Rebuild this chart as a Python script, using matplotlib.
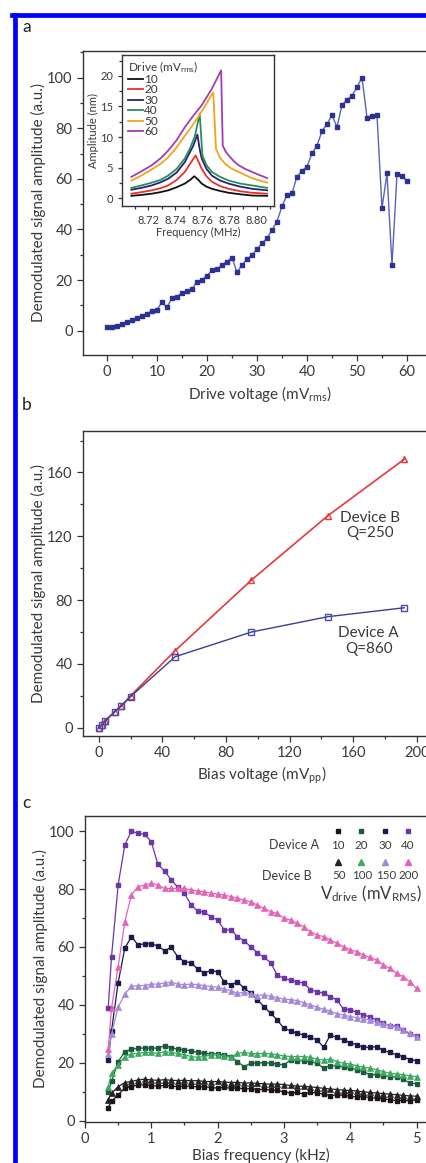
import matplotlib
matplotlib.use("Agg")
import matplotlib.pyplot as plt
from matplotlib.lines import Line2D
from matplotlib.ticker import MultipleLocator

plt.rcParams["font.family"] = ["Lato", "DejaVu Sans"]
plt.rcParams["mathtext.fontset"] = "custom"
plt.rcParams["mathtext.rm"] = "Lato"
plt.rcParams["mathtext.it"] = "Lato:italic"

W, H = 427, 1163
TXT = "#3a3a3a"

# ---------------- panel a: drive sweep ----------------
drive_mv = list(range(61))
drive_amp = [1.6, 1.4, 2.0, 2.6, 3.3, 4.2, 5.0, 6.0, 6.7, 7.9, 8.3,
             11.3, 9.3, 12.9, 13.5, 14.9, 15.5, 16.4, 19.4, 20.1, 21.8,
             23.8, 24.3, 26.0, 27.3, 28.9, 23.0, 26.0, 28.3, 29.9, 32.2,
             34.5, 36.5, 39.8, 43.1, 49.2, 53.6, 54.3, 60.9, 63.2, 64.8,
             70.1, 73.1, 78.9, 81.6, 85.2, 80.4, 89.2, 91.2, 92.8, 96.2,
             100.0, 84.2, 85.0, 85.2, 48.4, 62.2, 26.0, 61.8, 61.1, 59.2]

# inset: resonance curves (MHz, nm) per drive level
inset_labels = ["10", "20", "30", "40", "50", "60"]
inset_colors = ["#111111", "#e8302e", "#23246e", "#2f8a5a", "#f5a31a", "#a23cb4"]
f10 = [8.7076, 8.715, 8.7226, 8.729, 8.7348, 8.741, 8.747, 8.751, 8.754, 8.757,
       8.7595, 8.763, 8.767, 8.773, 8.7793, 8.788, 8.7966, 8.8077]
a10 = [0.4, 0.55, 0.75, 1.0, 1.3, 1.8, 2.4, 3.0, 3.6, 3.0,
       2.4, 1.9, 1.55, 1.2, 0.9, 0.65, 0.45, 0.4]
f20 = [8.7076, 8.715, 8.7226, 8.729, 8.7348, 8.741, 8.747, 8.752, 8.755, 8.7575,
       8.7595, 8.763, 8.767, 8.773, 8.7793, 8.788, 8.7966, 8.8077]
a20 = [0.75, 1.0, 1.3, 1.65, 2.1, 3.0, 4.3, 6.0, 7.0, 5.8,
       4.8, 3.6, 2.7, 2.0, 1.55, 1.15, 0.9, 0.75]
f30 = [8.7076, 8.715, 8.7226, 8.729, 8.7348, 8.741, 8.747, 8.7533, 8.7563, 8.758,
       8.7595, 8.763, 8.767, 8.773, 8.7793, 8.788, 8.7966, 8.8077]
a30 = [1.4, 1.7, 2.1, 2.6, 3.2, 4.2, 5.9, 8.6, 10.4, 8.0,
       6.5, 4.8, 3.7, 2.9, 2.4, 1.9, 1.55, 1.3]
f40 = [8.7076, 8.715, 8.7226, 8.729, 8.7348, 8.741, 8.747, 8.751, 8.7545, 8.758,
       8.760, 8.763, 8.767, 8.773, 8.7793, 8.788, 8.7966, 8.8077]
a40 = [1.7, 2.1, 2.55, 3.0, 3.7, 4.8, 6.5, 8.2, 10.2, 13.8,
       7.0, 5.4, 4.3, 3.5, 2.9, 2.4, 2.1, 1.7]
f50 = [8.7076, 8.715, 8.7226, 8.729, 8.7348, 8.741, 8.747, 8.752, 8.757, 8.7644,
       8.768, 8.770, 8.773, 8.7768, 8.781, 8.7867, 8.7915, 8.7966, 8.802, 8.8077]
a50 = [2.9, 3.7, 4.7, 5.6, 6.7, 8.3, 10.2, 11.7, 13.3, 16.0,
       17.3, 8.1, 6.6, 5.65, 4.9, 4.3, 3.8, 3.3, 2.9, 2.55]
f60 = [8.7076, 8.715, 8.7226, 8.729, 8.7348, 8.741, 8.747, 8.753, 8.7595, 8.767,
       8.7738, 8.775, 8.777, 8.7793, 8.783, 8.7867, 8.7915, 8.7966, 8.802, 8.8077]
a60 = [3.5, 4.4, 5.4, 6.5, 7.8, 9.5, 11.6, 13.4, 15.2, 17.9,
       20.9, 8.6, 7.7, 7.0, 6.1, 5.4, 4.8, 4.3, 3.8, 3.3]
inset_f = [f10, f20, f30, f40, f50, f60]
inset_a = [a10, a20, a30, a40, a50, a60]

# ---------------- panel b: bias voltage ----------------
bias_mv = [0, 2, 4, 10, 14, 20, 48, 96, 144, 192]
devB_amp = [0, 2, 4.5, 10, 13.5, 20, 48.3, 92.6, 132.9, 168.3]
devA_amp = [0, 2, 4, 10, 13.5, 19.5, 44.5, 60.0, 69.6, 75.2]

# ---------------- panel c: bias frequency ----------------
freq_khz = [0.35, 0.4, 0.5, 0.6, 0.7, 0.8, 0.9, 1.0, 1.1, 1.2, 1.3, 1.4,
            1.5, 1.6, 1.7, 1.8, 1.9, 2.0, 2.1, 2.2, 2.3, 2.4, 2.5, 2.6,
            2.7, 2.8, 2.9, 3.0, 3.1, 3.2, 3.3, 3.4, 3.5, 3.6, 3.7, 3.8,
            3.9, 4.0, 4.1, 4.2, 4.3, 4.4, 4.5, 4.6, 4.7, 4.8, 4.9, 5.0]
cA10 = [4.6, 6.7, 9.0, 11.3, 11.8, 12.4, 12.4, 12.1, 12.0, 12.2, 12.0, 11.8,
        12.0, 11.9, 11.7, 11.8, 11.5, 11.3, 11.6, 11.2, 11.4, 11.0, 11.1, 10.8,
        10.9, 10.6, 10.5, 10.0, 9.6, 9.8, 9.2, 9.9, 9.5, 9.3, 8.7, 9.0,
        8.8, 8.5, 8.2, 8.4, 8.0, 7.8, 7.6, 7.2, 7.0, 7.1, 6.9, 7.3]
cA20 = [10.1, 13.6, 20.4, 23.9, 24.7, 25.1, 25.1, 25.1, 25.1, 25.9, 25.3, 24.7,
        24.5, 24.2, 23.6, 23.3, 23.1, 23.0, 22.8, 22.2, 20.4, 18.7, 19.9, 19.9,
        20.1, 19.9, 19.6, 19.3, 21.0, 20.8, 20.8, 20.4, 19.9, 18.2, 19.0, 19.0,
        18.5, 18.2, 17.6, 17.0, 15.9, 15.9, 15.5, 15.3, 15.1, 14.4, 13.0, 12.8]
cA30 = [21.0, 31.1, 47.7, 59.5, 63.6, 60.7, 61.1, 61.1, 60.3, 58.7, 59.9, 56.6,
        54.9, 54.6, 52.3, 51.1, 51.8, 51.5, 48.0, 46.9, 48.0, 45.7, 44.2, 41.7,
        39.4, 37.1, 34.8, 31.9, 31.1, 30.2, 29.6, 28.8, 27.9, 25.4, 29.6, 28.8,
        27.9, 27.0, 26.2, 25.4, 25.4, 25.6, 24.3, 23.6, 22.8, 22.2, 21.1, 20.8]
cA40 = [38.9, 56.7, 81.4, 95.2, 100.0, 99.2, 98.9, 96.3, 88.5, 86.2, 83.2, 80.6,
        78.5, 74.5, 72.4, 72.0, 70.4, 69.3, 65.9, 65.9, 63.6, 62.1, 60.1, 58.0,
        56.4, 54.6, 50.3, 49.2, 48.5, 48.0, 47.5, 45.2, 44.6, 44.0, 42.9, 41.7,
        38.5, 38.3, 37.4, 36.6, 35.8, 34.8, 33.7, 32.8, 32.8, 31.4, 30.0, 29.3]
cB50 = [7.2, 9.5, 11.8, 13.2, 13.6, 14.1, 14.4, 14.1, 14.0, 14.2, 14.0, 13.9,
        14.0, 13.8, 13.9, 13.6, 13.5, 13.6, 13.4, 13.2, 13.3, 13.0, 13.1, 12.9,
        12.8, 12.6, 12.7, 12.5, 12.2, 12.0, 11.9, 11.7, 11.5, 11.2, 11.0, 10.8,
        10.6, 10.5, 10.3, 10.0, 9.8, 9.6, 9.4, 9.2, 9.0, 8.8, 8.6, 8.5]
cB100 = [11.8, 16.4, 19.3, 22.2, 23.1, 23.3, 23.6, 23.6, 23.3, 23.9, 23.6, 23.3,
         22.8, 22.2, 21.9, 22.2, 22.8, 22.8, 22.4, 21.9, 23.3, 23.6, 23.3, 23.1,
         23.3, 23.1, 22.8, 22.4, 22.2, 22.2, 22.2, 21.9, 21.3, 21.0, 21.3, 20.4,
         19.9, 19.6, 19.0, 18.5, 18.2, 17.6, 17.0, 16.4, 16.2, 15.9, 15.5, 15.3]
cB150 = [23.0, 30.0, 39.2, 43.8, 46.4, 46.7, 46.7, 47.2, 47.2, 47.6, 47.8, 47.2,
         47.0, 47.2, 47.0, 46.7, 46.3, 46.1, 45.5, 44.9, 44.0, 44.4, 43.8, 43.2,
         43.5, 43.0, 42.5, 42.0, 41.8, 41.5, 40.8, 40.0, 39.2, 38.5, 37.8, 37.0,
         36.5, 36.0, 35.6, 35.3, 34.8, 34.0, 33.5, 33.0, 32.4, 31.5, 30.2, 29.0]
cB200 = [24.7, 38.9, 53.2, 68.7, 78.0, 80.8, 81.4, 82.0, 81.4, 80.2, 80.2, 80.2,
         80.2, 79.7, 79.3, 79.1, 78.5, 78.3, 77.9, 77.4, 76.8, 76.2, 75.5, 74.5,
         73.3, 72.2, 71.6, 69.9, 69.3, 68.2, 67.0, 65.3, 64.1, 63.6, 62.4, 61.3,
         60.1, 59.0, 58.4, 57.2, 56.4, 55.5, 53.8, 52.6, 50.9, 49.8, 48.0, 45.7]
devA_labels = ["10", "20", "30", "40"]
devB_labels = ["50", "100", "150", "200"]
devA_series = [cA10, cA20, cA30, cA40]
devB_series = [cB50, cB100, cB150, cB200]
devA_colors = ["#1c1416", "#1d5a3c", "#1c1a4c", "#6a36a8"]
devB_colors = ["#222222", "#3da862", "#a489d8", "#e462b8"]


def px_axes(fig, left, top, right, bottom):
    return fig.add_axes([left / W, 1 - bottom / H, (right - left) / W, (bottom - top) / H])


def style(ax, fs=10.5, major=4, minor=2.5):
    for s in ax.spines.values():
        s.set_color("#333333")
        s.set_linewidth(1.0)
    ax.tick_params(which="both", direction="out", color="#333333", labelcolor=TXT,
                   labelsize=fs, width=0.9)
    ax.tick_params(which="major", length=major)
    ax.tick_params(which="minor", length=minor)


fig = plt.figure(figsize=(W / 100, H / 100), dpi=100)

# blue frame (cropped figure border)
fig.add_artist(Line2D([14.5 / W, 14.5 / W], [0, 1 - 14.5 / H], color="#0000ff",
                      lw=3.4, transform=fig.transFigure))
fig.add_artist(Line2D([12.5 / W, 1], [1 - 14.5 / H, 1 - 14.5 / H], color="#0000ff",
                      lw=3.4, transform=fig.transFigure))

# ---- a ----
ax = px_axes(fig, 83, 51, 437, 355)
ax.plot(drive_mv, drive_amp, color="#5b63b3", lw=1.0, marker="s", ms=3.4,
        mfc="#2e3192", mec="#2e3192")
ax.set_xlim(-4.8, 66)
ax.set_ylim(-9.6, 110.5)
ax.xaxis.set_major_locator(MultipleLocator(10))
ax.xaxis.set_minor_locator(MultipleLocator(5))
ax.yaxis.set_major_locator(MultipleLocator(20))
ax.yaxis.set_minor_locator(MultipleLocator(10))
style(ax)
ax.set_xlabel("Drive voltage (mV$_{\\rm rms}$)", fontsize=11, color=TXT, labelpad=3)
ax.set_ylabel("Demodulated signal amplitude (a.u.)", fontsize=11, color=TXT, labelpad=1)

ins = px_axes(fig, 122, 55, 274, 206)
for f, a, c, lab in zip(inset_f, inset_a, inset_colors, inset_labels):
    ins.plot(f, a, color=c, lw=1.3, label=lab)
ins.set_xlim(8.7007, 8.8128)
ins.set_ylim(-1.26, 23.4)
ins.set_xticks([8.72, 8.74, 8.76, 8.78, 8.80])
ins.set_xticklabels(["8.72", "8.74", "8.76", "8.78", "8.80"])
ins.xaxis.set_minor_locator(MultipleLocator(0.01))
ins.yaxis.set_major_locator(MultipleLocator(5))
ins.yaxis.set_minor_locator(MultipleLocator(2.5))
style(ins, fs=8, major=3, minor=2)
ins.set_xlabel("Frequency (MHz)", fontsize=8, color=TXT, labelpad=1)
ins.set_ylabel("Amplitude (nm)", fontsize=8, color=TXT, labelpad=1)
leg = ins.legend(title="Drive (mV$_{\\rm rms}$)", loc="upper left", bbox_to_anchor=(-0.01, 1.02),
                 frameon=False, fontsize=8.5, title_fontsize=8.5, handlelength=1.3,
                 handletextpad=0.1, labelspacing=-0.05, borderaxespad=0.2,
                 alignment="left")
for t in leg.get_texts():
    t.set_color(TXT)
leg.get_title().set_color(TXT)

# ---- b ----
bx = px_axes(fig, 83, 431, 440, 735.7)
bx.plot(bias_mv, devB_amp, color="#e8383b", lw=1.2, marker="^", ms=5,
        mfc="none", mec="#e8383b", mew=1.0)
bx.plot(bias_mv, devA_amp, color="#3b3c98", lw=1.0, marker="s", ms=4.5,
        mfc="none", mec="#4a4aa8", mew=1.0)
bx.set_xlim(-9.9, 214.5)
bx.set_ylim(-5, 186)
bx.xaxis.set_major_locator(MultipleLocator(40))
bx.xaxis.set_minor_locator(MultipleLocator(20))
bx.yaxis.set_major_locator(MultipleLocator(40))
bx.yaxis.set_minor_locator(MultipleLocator(20))
style(bx)
bx.set_xlabel("Bias voltage (mV$_{\\rm pp}$)", fontsize=11, color=TXT, labelpad=3)
bx.set_ylabel("Demodulated signal amplitude (a.u.)", fontsize=11, color=TXT, labelpad=1)
bx.text(0.805, 0.69, "Device B\nQ=250", transform=bx.transAxes, ha="center", va="center",
        fontsize=11, color=TXT, linespacing=1.15)
bx.text(0.80, 0.31, "Device A\nQ=860", transform=bx.transAxes, ha="center", va="center",
        fontsize=11, color=TXT, linespacing=1.15)

# ---- c ----
cx = px_axes(fig, 85, 816, 436.4, 1122)
for ys, c in zip(devA_series, devA_colors):
    cx.plot(freq_khz, ys, color=c, lw=0.9, marker="s", ms=3.2, mfc=c, mec=c)
for ys, c in zip(devB_series, devB_colors):
    cx.plot(freq_khz, ys, color=c, lw=0.9, marker="^", ms=4.0, mfc=c, mec=c, mew=0.5)
cx.set_xlim(0, 5.3)
cx.set_ylim(-0.4, 105.2)
cx.xaxis.set_major_locator(MultipleLocator(1))
cx.xaxis.set_minor_locator(MultipleLocator(0.5))
cx.yaxis.set_major_locator(MultipleLocator(20))
cx.yaxis.set_minor_locator(MultipleLocator(10))
style(cx)
cx.set_xlabel("Bias frequency (kHz)", fontsize=11, color=TXT, labelpad=1)
cx.set_ylabel("Demodulated signal amplitude (a.u.)", fontsize=11, color=TXT, labelpad=1)

# legend block of panel c, drawn in axes fraction
key_x = [0.72, 0.785, 0.853, 0.918]
cx.text(0.665, 0.905, "Device A", transform=cx.transAxes, ha="right", va="center",
        fontsize=9, color=TXT)
cx.text(0.645, 0.805, "Device B", transform=cx.transAxes, ha="right", va="center",
        fontsize=9, color=TXT)
for kx, lab, c in zip(key_x, devA_labels, devA_colors):
    cx.plot([kx], [0.95], transform=cx.transAxes, marker="s", ms=3.4, color=c, ls="none")
    cx.text(kx, 0.905, lab, transform=cx.transAxes, ha="center", va="center",
            fontsize=8.3, color=TXT)
for kx, lab, c in zip(key_x, devB_labels, devB_colors):
    cx.plot([kx], [0.85], transform=cx.transAxes, marker="^", ms=4.2, color=c, ls="none")
    cx.text(kx + 0.003, 0.805, lab, transform=cx.transAxes, ha="center", va="center",
            fontsize=8.3, color=TXT)
cx.text(0.668, 0.745, "V$_{\\rm drive}$ (mV$_{\\rm RMS}$)", transform=cx.transAxes,
        ha="left", va="center", fontsize=12, color=TXT)

# panel letters
for lab, y in [("a", 27), ("b", 405), ("c", 803)]:
    fig.text(22 / W, 1 - y / H, lab, fontsize=12.5, color="#222222", ha="left", va="center")

fig.savefig("out.png", dpi=100)
